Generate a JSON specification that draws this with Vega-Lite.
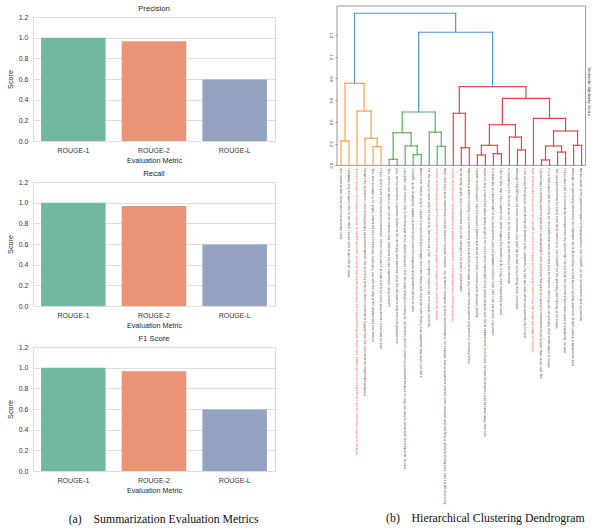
{
  "$schema": "https://vega.github.io/schema/vega-lite/v6.json",
  "background": "white",
  "padding": {"left": 5, "top": 4, "right": 0, "bottom": 0},
  "config": {
    "font": "Liberation Sans",
    "view": {"stroke": "#dddddd"},
    "axis": {"labelColor": "#333333", "titleColor": "#262626", "titleFontWeight": "normal"},
    "title": {"font": "Liberation Sans", "fontWeight": "normal", "color": "#262626"}
  },
  "resolve": {"scale": {"color": "independent"}},
  "datasets": {
    "scores": [
      {"metric": "Precision", "rouge": "ROUGE-1", "score": 1.0},
      {"metric": "Precision", "rouge": "ROUGE-2", "score": 0.966},
      {"metric": "Precision", "rouge": "ROUGE-L", "score": 0.594},
      {"metric": "Recall", "rouge": "ROUGE-1", "score": 1.0},
      {"metric": "Recall", "rouge": "ROUGE-2", "score": 0.967},
      {"metric": "Recall", "rouge": "ROUGE-L", "score": 0.595},
      {"metric": "F1 Score", "rouge": "ROUGE-1", "score": 1.0},
      {"metric": "F1 Score", "rouge": "ROUGE-2", "score": 0.966},
      {"metric": "F1 Score", "rouge": "ROUGE-L", "score": 0.595}
    ],
    "links": [
      {"xa": 5, "ya": 0, "xb": 15, "yb": 0, "h": 0.224, "cluster": "orange"},
      {"xa": 45, "ya": 0, "xb": 55, "yb": 0, "h": 0.172, "cluster": "orange"},
      {"xa": 35, "ya": 0, "xb": 50, "yb": 0.172, "h": 0.249, "cluster": "orange"},
      {"xa": 25, "ya": 0, "xb": 42.5, "yb": 0.249, "h": 0.5, "cluster": "orange"},
      {"xa": 10, "ya": 0.224, "xb": 33.75, "yb": 0.5, "h": 0.755, "cluster": "orange"},
      {"xa": 65, "ya": 0, "xb": 75, "yb": 0, "h": 0.055, "cluster": "green"},
      {"xa": 95, "ya": 0, "xb": 105, "yb": 0, "h": 0.098, "cluster": "green"},
      {"xa": 85, "ya": 0, "xb": 100, "yb": 0.098, "h": 0.178, "cluster": "green"},
      {"xa": 70, "ya": 0.055, "xb": 92.5, "yb": 0.178, "h": 0.3, "cluster": "green"},
      {"xa": 125, "ya": 0, "xb": 135, "yb": 0, "h": 0.175, "cluster": "green"},
      {"xa": 115, "ya": 0, "xb": 130, "yb": 0.175, "h": 0.305, "cluster": "green"},
      {"xa": 81.25, "ya": 0.3, "xb": 122.5, "yb": 0.305, "h": 0.491, "cluster": "green"},
      {"xa": 155, "ya": 0, "xb": 165, "yb": 0, "h": 0.162, "cluster": "red"},
      {"xa": 145, "ya": 0, "xb": 160, "yb": 0.162, "h": 0.479, "cluster": "red"},
      {"xa": 175, "ya": 0, "xb": 185, "yb": 0, "h": 0.095, "cluster": "red"},
      {"xa": 195, "ya": 0, "xb": 205, "yb": 0, "h": 0.107, "cluster": "red"},
      {"xa": 180, "ya": 0.095, "xb": 200, "yb": 0.107, "h": 0.184, "cluster": "red"},
      {"xa": 225, "ya": 0, "xb": 235, "yb": 0, "h": 0.141, "cluster": "red"},
      {"xa": 215, "ya": 0, "xb": 230, "yb": 0.141, "h": 0.26, "cluster": "red"},
      {"xa": 190, "ya": 0.184, "xb": 222.5, "yb": 0.26, "h": 0.374, "cluster": "red"},
      {"xa": 255, "ya": 0, "xb": 265, "yb": 0, "h": 0.049, "cluster": "red"},
      {"xa": 275, "ya": 0, "xb": 285, "yb": 0, "h": 0.122, "cluster": "red"},
      {"xa": 260, "ya": 0.049, "xb": 280, "yb": 0.122, "h": 0.178, "cluster": "red"},
      {"xa": 295, "ya": 0, "xb": 305, "yb": 0, "h": 0.184, "cluster": "red"},
      {"xa": 270, "ya": 0.178, "xb": 300, "yb": 0.184, "h": 0.316, "cluster": "red"},
      {"xa": 245, "ya": 0, "xb": 285, "yb": 0.316, "h": 0.433, "cluster": "red"},
      {"xa": 206.25, "ya": 0.374, "xb": 265, "yb": 0.433, "h": 0.617, "cluster": "red"},
      {"xa": 152.5, "ya": 0.479, "xb": 235.625, "yb": 0.617, "h": 0.724, "cluster": "red"},
      {"xa": 101.875, "ya": 0.491, "xb": 194.0625, "yb": 0.724, "h": 1.225, "cluster": "blue"},
      {"xa": 21.875, "ya": 0.755, "xb": 147.96875, "yb": 1.225, "h": 1.4, "cluster": "blue"}
    ],
    "leaves": [
      {"pos": 5, "highlight": false, "label": "One month before, there were two recorded visits."},
      {"pos": 15, "highlight": false, "label": "I probably only did about 20% of the effort I would need to put into an essay."},
      {"pos": 25, "highlight": true, "label": "A recent freedom of information request to Cardiff University revealed that during the January 2023 assessment period, there were 4,660 visits to the ChatGPT site on the university's own wi-fi network."},
      {"pos": 35, "highlight": false, "label": "Despite the increase in visits during January assessment period, the university believes there is nothing to suggest that the visits were for illegitimate purposes."},
      {"pos": 45, "highlight": false, "label": "Tom, who averages a 2:1 grade, submitted two 2,500 essays in January, one with the help of the chatbot and one without."},
      {"pos": 55, "highlight": false, "label": "I have used it quite a few times since December. I think I have used it at least a little for every assessment I have had, he said."},
      {"pos": 65, "highlight": false, "label": "Tom, not his real name, is one of the students who conducted his own experiment using ChatGPT."},
      {"pos": 75, "highlight": false, "label": "Jess, not his real name, is another student at the university who admitted using the software to help him with assignments."},
      {"pos": 85, "highlight": false, "label": "I am glad I used it when I did, in the final year of my degree, because I feel like a big change is coming for universities when it comes to coursework because it's way too easy to cheat with the help of AI, he said."},
      {"pos": 95, "highlight": false, "label": "ChatGPT, as an AI program capable of producing human-like responses and academic pieces of work."},
      {"pos": 105, "highlight": false, "label": "When I first started using it, I asked it to write stuff like compare this niche theory with this other niche theory in an academic way and it just did it."},
      {"pos": 115, "highlight": false, "label": "For the essay he wrote with the help of AI, Tom received a first - the highest mark he has ever had at university."},
      {"pos": 125, "highlight": true, "label": "Cardiff University students said they had received first class grades for essays written using the AI chatbot."},
      {"pos": 135, "highlight": false, "label": "Most visits have been identified as coming from our research network - our School of Computer Science and Informatics, for example, has an academic interest in the research and teaching of artificial intelligence, said Cardiff University."},
      {"pos": 145, "highlight": true, "label": "Cardiff University said it took allegations of academic misconduct, including plagiarism, extremely seriously."},
      {"pos": 155, "highlight": false, "label": "As for being caught, Jess is certain that use of the software in his work is undetectable."},
      {"pos": 165, "highlight": false, "label": "Maintaining academic integrity is our main priority and we actively discourage any student from academic misconduct in its many forms."},
      {"pos": 175, "highlight": false, "label": "Cardiff University said it was reviewing its policies and would issue new university-wide guidance shortly."},
      {"pos": 185, "highlight": false, "label": "However, Jess is concerned about being caught in the future and if transcripts of his communication with the AI chatbot were ever found, he fears his degree could be taken away from him."},
      {"pos": 195, "highlight": false, "label": "It is basically just become part of my work process, and will probably continue to be until I can not access it anymore."},
      {"pos": 205, "highlight": false, "label": "I like to think that I have earned this, while reaping the benefits of AI, it may most importantly be used."},
      {"pos": 215, "highlight": false, "label": "In comparison, he received a low 2:1 on the essay he wrote without the software."},
      {"pos": 225, "highlight": false, "label": "Although ChatGPT does not insert references, Jess said that he had no issue filling those in himself."},
      {"pos": 235, "highlight": false, "label": "I see no way that anyone could distinguish between work completely my own and work which was aided by AI, he said."},
      {"pos": 245, "highlight": true, "label": "Both students said they do not use ChatGPT to write their essays, but to generate content they can tweak and adapt themselves."},
      {"pos": 255, "highlight": false, "label": "I do not copy everything word for word, but I would prompt it with questions that gave me access to information much quicker than usual, said Tom."},
      {"pos": 265, "highlight": false, "label": "It is a really good tool for cutting out the waffle that some lecturers give for theories, which you do not actually need to talk about in essays."},
      {"pos": 275, "highlight": false, "label": "Tom also admitted that he would most likely continue to use ChatGPT for the planning and framing of his essays."},
      {"pos": 285, "highlight": false, "label": "I have also used it to summarize concepts from my course that I do not think the lecturers have been good at explaining, he said."},
      {"pos": 295, "highlight": false, "label": "Although not specifically referenced, the improper use of AI would be covered by our existing academic integrity policy, a spokesman said."},
      {"pos": 305, "highlight": false, "label": "We are aware of the potential impact of AI programmes, like ChatGPT, on our assessments and coursework."}
    ]
  },
  "spacing": 52,
  "hconcat": [
    {
      "spacing": 5,
      "title": {"text": "(a)\u00a0\u00a0\u00a0\u00a0Summarization Evaluation Metrics", "orient": "bottom", "font": "Liberation Serif", "fontSize": 11.8, "fontWeight": "normal", "color": "#111111", "anchor": "middle", "offset": 20, "dx": 23},
      "vconcat": [
        {
          "width": 242, "height": 124,
          "data": {"name": "scores"},
          "transform": [{"filter": "datum.metric === 'Precision'"}],
          "title": {"text": "Precision", "fontSize": 7.7, "offset": 0},
          "mark": {"type": "bar"},
          "encoding": {
            "x": {"field": "rouge", "type": "nominal", "title": "Evaluation Metric", "scale": {"paddingInner": 0.2, "paddingOuter": 0.1}, "axis": {"labelAngle": 0, "ticks": false, "tickSize": 0, "domain": false, "grid": false, "labelPadding": 5, "titlePadding": 3, "labelFontSize": 7, "titleFontSize": 7.2}},
            "y": {"field": "score", "type": "quantitative", "title": "Score", "scale": {"domain": [0, 1.2], "nice": false}, "axis": {"values": [0, 0.2, 0.4, 0.6, 0.8, 1.0, 1.2], "format": ".1f", "ticks": false, "tickSize": 0, "domain": false, "gridColor": "#dddddd", "labelPadding": 5, "titlePadding": 4, "labelFontSize": 7, "titleFontSize": 7.2}},
            "color": {"field": "rouge", "type": "nominal", "scale": {"domain": ["ROUGE-1", "ROUGE-2", "ROUGE-L"], "range": ["#71b7a1", "#e99575", "#95a3c3"]}, "legend": null}
          }
        },
        {
          "width": 242, "height": 124,
          "data": {"name": "scores"},
          "transform": [{"filter": "datum.metric === 'Recall'"}],
          "title": {"text": "Recall", "fontSize": 7.7, "offset": 0},
          "mark": {"type": "bar"},
          "encoding": {
            "x": {"field": "rouge", "type": "nominal", "title": "Evaluation Metric", "scale": {"paddingInner": 0.2, "paddingOuter": 0.1}, "axis": {"labelAngle": 0, "ticks": false, "tickSize": 0, "domain": false, "grid": false, "labelPadding": 5, "titlePadding": 3, "labelFontSize": 7, "titleFontSize": 7.2}},
            "y": {"field": "score", "type": "quantitative", "title": "Score", "scale": {"domain": [0, 1.2], "nice": false}, "axis": {"values": [0, 0.2, 0.4, 0.6, 0.8, 1.0, 1.2], "format": ".1f", "ticks": false, "tickSize": 0, "domain": false, "gridColor": "#dddddd", "labelPadding": 5, "titlePadding": 4, "labelFontSize": 7, "titleFontSize": 7.2}},
            "color": {"field": "rouge", "type": "nominal", "scale": {"domain": ["ROUGE-1", "ROUGE-2", "ROUGE-L"], "range": ["#71b7a1", "#e99575", "#95a3c3"]}, "legend": null}
          }
        },
        {
          "width": 242, "height": 124,
          "data": {"name": "scores"},
          "transform": [{"filter": "datum.metric === 'F1 Score'"}],
          "title": {"text": "F1 Score", "fontSize": 7.7, "offset": 0},
          "mark": {"type": "bar"},
          "encoding": {
            "x": {"field": "rouge", "type": "nominal", "title": "Evaluation Metric", "scale": {"paddingInner": 0.2, "paddingOuter": 0.1}, "axis": {"labelAngle": 0, "ticks": false, "tickSize": 0, "domain": false, "grid": false, "labelPadding": 5, "titlePadding": 3, "labelFontSize": 7, "titleFontSize": 7.2}},
            "y": {"field": "score", "type": "quantitative", "title": "Score", "scale": {"domain": [0, 1.2], "nice": false}, "axis": {"values": [0, 0.2, 0.4, 0.6, 0.8, 1.0, 1.2], "format": ".1f", "ticks": false, "tickSize": 0, "domain": false, "gridColor": "#dddddd", "labelPadding": 5, "titlePadding": 4, "labelFontSize": 7, "titleFontSize": 7.2}},
            "color": {"field": "rouge", "type": "nominal", "scale": {"domain": ["ROUGE-1", "ROUGE-2", "ROUGE-L"], "range": ["#71b7a1", "#e99575", "#95a3c3"]}, "legend": null}
          }
        }
      ]
    },
    {
      "width": 248.6, "height": 148.3,
      "view": {"stroke": null},
      "resolve": {"axis": {"y": "independent"}},
      "title": {"text": "(b)\u00a0\u00a0\u00a0\u00a0Hierarchical Clustering Dendrogram", "orient": "bottom", "font": "Liberation Serif", "fontSize": 11.8, "fontWeight": "normal", "color": "#111111", "anchor": "middle", "frame": "group", "offset": 8, "dx": 24},
      "layer": [
        {
          "data": {"values": [{}]},
          "mark": {"type": "rect", "fill": null, "stroke": "#999999", "strokeWidth": 1},
          "encoding": {
            "x": {"datum": 0, "type": "quantitative", "axis": null},
            "x2": {"datum": 310},
            "y": {"datum": 0, "type": "quantitative", "axis": null},
            "y2": {"datum": 1.467}
          }
        },
        {
          "data": {"name": "links"},
          "mark": {"type": "rule", "strokeWidth": 1.2, "strokeCap": "square"},
          "encoding": {
            "x": {"field": "xa", "type": "quantitative", "scale": {"domain": [0, 310], "nice": false, "zero": false}, "axis": {"values": [5, 15, 25, 35, 45, 55, 65, 75, 85, 95, 105, 115, 125, 135, 145, 155, 165, 175, 185, 195, 205, 215, 225, 235, 245, 255, 265, 275, 285, 295, 305], "labels": false, "ticks": true, "tickSize": 2, "tickColor": "#888888", "domain": false, "grid": false, "title": null}},
            "x2": {"field": "xb"},
            "y": {"field": "h", "type": "quantitative", "scale": {"domain": [0, 1.3656], "nice": false}, "axis": {"orient": "right", "labels": false, "ticks": false, "domain": false, "grid": false, "title": "Semantic Similarity Score", "titleFontSize": 4.3, "titleColor": "#222222", "titlePadding": 1}},
            "color": {"field": "cluster", "type": "nominal", "scale": {"domain": ["blue", "orange", "green", "red"], "range": ["#4f95cf", "#fba04f", "#55b455", "#e04848"]}, "legend": null}
          }
        },
        {
          "data": {"name": "links"},
          "mark": {"type": "rule", "strokeWidth": 1.2, "strokeCap": "square"},
          "encoding": {
            "x": {"field": "xa", "type": "quantitative", "axis": null},
            "y": {"field": "ya", "type": "quantitative", "axis": {"orient": "left", "values": [0, 0.2, 0.4, 0.6, 0.8, 1.0, 1.2, 1.4], "format": ".1f", "labelAngle": 90, "labelFontSize": 4, "labelPadding": 3, "labelColor": "#222222", "tickSize": 2, "tickColor": "#888888", "domain": false, "grid": false, "title": null}},
            "y2": {"field": "h"},
            "color": {"field": "cluster", "type": "nominal", "legend": null}
          }
        },
        {
          "data": {"name": "links"},
          "mark": {"type": "rule", "strokeWidth": 1.2, "strokeCap": "square"},
          "encoding": {
            "x": {"field": "xb", "type": "quantitative", "axis": null},
            "y": {"field": "yb", "type": "quantitative", "axis": null},
            "y2": {"field": "h"},
            "color": {"field": "cluster", "type": "nominal", "legend": null}
          }
        },
        {
          "data": {"name": "leaves"},
          "mark": {"type": "text", "angle": 90, "align": "left", "baseline": "middle", "dx": 3, "fontSize": 2.85, "font": "DejaVu Sans"},
          "encoding": {
            "x": {"field": "pos", "type": "quantitative", "axis": null},
            "y": {"datum": 0, "type": "quantitative", "axis": null},
            "text": {"field": "label"},
            "color": {"condition": {"test": "datum.highlight", "value": "#f03030"}, "value": "#222222"}
          }
        }
      ]
    }
  ]
}
